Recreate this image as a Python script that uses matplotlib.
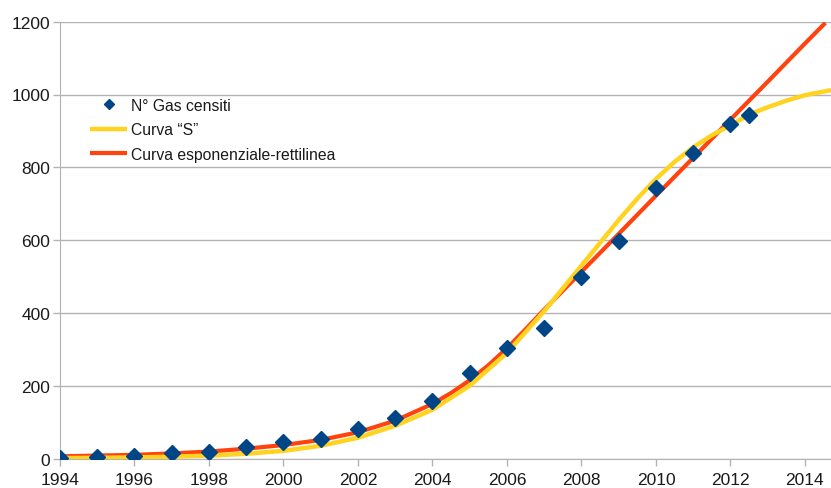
import numpy as np
import matplotlib
matplotlib.use("Agg")
import matplotlib.pyplot as plt

plt.rcParams['font.family'] = ['Liberation Sans', 'DejaVu Sans']

# N° Gas censiti (points)
gas_years = [1994, 1995, 1996, 1997, 1998, 1999, 2000, 2001, 2002, 2003,
             2004, 2005, 2006, 2007, 2008, 2009, 2010, 2011, 2012, 2012.5]
gas_values = [2, 3, 8, 15, 17, 31, 44, 54, 80, 111,
              159, 234, 304, 359, 500, 598, 743, 838, 920, 945]

# Curva "S"
s_years = [1994, 1995, 1996, 1997, 1998, 1999, 2000, 2001, 2002, 2003,
           2004, 2005, 2006, 2007, 2008, 2009, 2009.5, 2010, 2010.5, 2011,
           2011.5, 2012, 2012.5, 2013, 2013.5, 2014, 2014.7]
s_values = [1, 2, 3, 5, 8, 13, 21, 35, 57, 90,
            134, 200, 290, 405, 530, 655, 714, 768, 815, 855,
            888, 915, 945, 965, 983, 998, 1012]

# Curva esponenziale-rettilinea
exp_years = [1994, 1995, 1996, 1997, 1998, 1999, 2000, 2001, 2002, 2003,
             2004, 2004.5, 2005, 2005.5, 2006, 2006.5, 2007, 2008, 2009, 2010,
             2011, 2012, 2013, 2014, 2014.55]
exp_values = [6, 8, 10, 14, 19, 27, 37, 51, 72, 104,
              150, 180, 215, 256, 303, 355, 409, 513, 617, 722,
              826, 931, 1035, 1140, 1197]

GRID = "#b3b3b3"
NAVY = "#004586"
RED = "#ff420e"
YELLOW = "#ffd320"
TEXT = "#1a1a1a"

fig = plt.figure(figsize=(8.31, 4.89), dpi=100)
ax = fig.add_axes([60 / 831, 1 - 459.5 / 489, 1 - 60 / 831, (459.5 - 22.7) / 489])

ax.plot(exp_years, exp_values, color=RED, lw=3.0, label="Curva esponenziale-rettilinea",
        zorder=3, solid_capstyle="butt")
ax.plot(s_years, s_values, color=YELLOW, lw=3.2, label="Curva \u201cS\u201d",
        zorder=3, solid_capstyle="butt")
ax.plot(gas_years, gas_values, ls="none", marker="D", ms=8.4, color=NAVY,
        label="N\u00b0 Gas censiti", zorder=4)

ax.set_xlim(1994, 2014.7)
ax.set_ylim(0, 1200)
ax.set_xticks(range(1994, 2015, 2))
ax.set_yticks(range(0, 1201, 200))

ax.grid(axis="y", color=GRID, lw=1)
ax.set_axisbelow(True)
for s in ["top", "right"]:
    ax.spines[s].set_visible(False)
ax.spines["left"].set_color(GRID)
ax.spines["bottom"].set_color(GRID)
ax.tick_params(colors=GRID, labelcolor=TEXT, labelsize=12.5, length=5, width=1)
ax.tick_params(axis="x", pad=5)
ax.tick_params(axis="y", pad=2)

handles, labels = ax.get_legend_handles_labels()
order = [2, 1, 0]
ax.legend([handles[i] for i in order], [labels[i] for i in order],
          loc="upper left", bbox_to_anchor=(0.02, 0.858), frameon=False,
          fontsize=11.35, handlelength=2.4, handletextpad=0.2, markerscale=0.55,
          labelspacing=0.6, labelcolor=TEXT)

fig.savefig("out.png", dpi=100)
